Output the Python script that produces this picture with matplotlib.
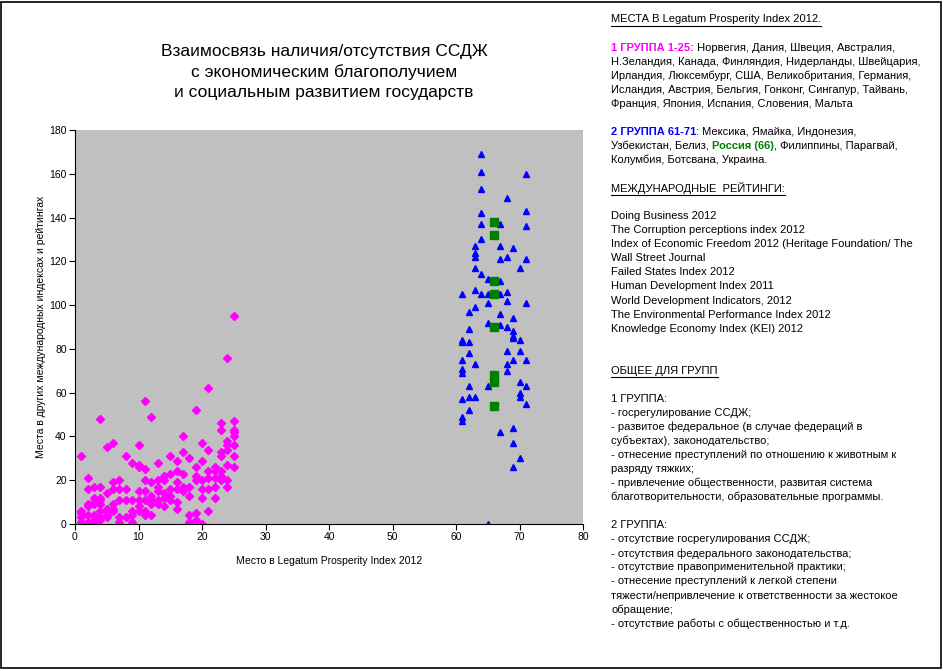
import matplotlib
matplotlib.use("Agg")
import matplotlib.pyplot as plt
from matplotlib.lines import Line2D
from matplotlib.patches import Rectangle

plt.rcParams['font.family'] = ['Liberation Sans', 'DejaVu Sans']

# group 1: places 1-25 in Legatum index, places in other ratings
g1_rank = ([1]*5 + [2]*6 + [3]*7 + [4]*8 + [5]*6 + [6]*6 + [7]*5 + [8]*4 + [9]*5
           + [10]*7 + [11]*7 + [12]*6 + [13]*6 + [14]*5 + [15]*5 + [16]*6 + [17]*5
           + [18]*6 + [19]*6 + [20]*6 + [21]*6 + [22]*5 + [23]*7 + [24]*7 + [25]*8)
g1_place = [31, 6, 5, 3, 1,
            21, 16, 9, 8, 4, 1,
            17, 12, 10, 9, 4, 2, 1,
            48, 17, 12, 11, 9, 6, 3, 2,
            35, 14, 7, 6, 4, 3,
            37, 19, 16, 9, 7, 6,
            20, 16, 11, 3, 1,
            31, 16, 11, 3,
            28, 11, 6, 4, 1,
            36, 27, 26, 15, 11, 8, 6,
            56, 25, 20, 15, 11, 6, 4,
            49, 19, 13, 11, 9, 4,
            28, 20, 17, 15, 11, 9,
            22, 20, 14, 12, 8,
            31, 23, 16, 13, 11,
            29, 24, 19, 16, 10, 7,
            40, 33, 23, 17, 15,
            30, 17, 13, 4, 1, 0,
            52, 26, 22, 20, 5, 2,
            37, 29, 20, 16, 12, 0,
            62, 34, 24, 21, 16, 6,
            26, 24, 21, 17, 12,
            46, 43, 33, 31, 24, 22, 20,
            76, 38, 36, 34, 27, 20, 17,
            95, 47, 43, 42, 40, 36, 31, 26]

# group 2: places 61-71 (without Russia)
g2_rank = ([61]*9 + [62]*7 + [63]*8 + [64]*8 + [65]*6 + [67]*8 + [68]*8
           + [69]*9 + [70]*7 + [71]*8)
g2_place = [105, 84, 83, 75, 71, 69, 57, 49, 47,
            97, 89, 83, 78, 63, 58, 52,
            127, 124, 122, 117, 107, 99, 73, 58,
            169, 161, 153, 142, 137, 130, 114, 105,
            112, 105, 101, 92, 63, 0,
            137, 127, 121, 111, 105, 96, 91, 42,
            149, 122, 106, 102, 90, 79, 73, 70,
            126, 94, 88, 86, 85, 75, 44, 37, 26,
            117, 84, 79, 65, 60, 58, 30,
            160, 143, 136, 121, 101, 75, 63, 55]

# Russia (66)
ru_rank = [66]*8
ru_place = [138, 132, 111, 105, 90, 68, 65, 54]

W, H = 944, 671
fig = plt.figure(figsize=(W/100, H/100), dpi=100)
fig.patch.set_facecolor('white')

ax = fig.add_axes([75/W, 1 - 524/H, 508/W, 394/H])
ax.set_facecolor('#C0C0C0')
ax.plot(g1_rank, g1_place, 'D', color='#FF00FF', ms=3.6, mec='#FF00FF')
ax.plot(g2_rank, g2_place, '^', color='#0000FF', ms=4.8, mec='#0000FF')
ax.plot(ru_rank, ru_place, 's', color='#008000', ms=6, mec='#008000')
ax.set_xlim(0, 80)
ax.set_ylim(0, 180)
ax.set_xticks(range(0, 81, 10))
ax.set_yticks(range(0, 181, 20))
for s in ['top', 'right']:
    ax.spines[s].set_visible(False)
for s in ['left', 'bottom']:
    ax.spines[s].set_color('black')
    ax.spines[s].set_linewidth(0.8)
ax.tick_params(direction='out', length=4, width=0.8, labelsize=7.5, pad=2)
ax.set_xlabel('Место в Legatum Prosperity Index 2012', fontsize=7.5, labelpad=10)
ax.set_ylabel('Места в других международных индексах и рейтингах', fontsize=7.5, labelpad=2)

fig.text(324/W, 1 - 72/H, 'Взаимосвязь наличия/отсутствия ССДЖ\nс экономическим благополучием\nи социальным развитием государств',
         ha='center', va='center', fontsize=12.5, linespacing=1.4)

fig.canvas.draw()
rend = fig.canvas.get_renderer()

FS = 8
X0 = 611


def line_y(i):
    return 19.5 + 14.05 * i


def put(i, parts, underline=False):
    x = X0
    y = line_y(i)
    for txt, kw in parts:
        t = fig.text(x/W, 1 - y/H, txt, ha='left', va='center', fontsize=FS, **kw)
        bb = t.get_window_extent(rend)
        if underline:
            fig.add_artist(Line2D([x/W, (x + bb.width)/W], [bb.y0/H - 1/H]*2,
                                  color='black', lw=0.8))
        x += bb.width


plain = {'color': 'black'}
put(0, [('МЕСТА В Legatum Prosperity Index 2012.', plain)], underline=True)
put(2, [('1 ГРУППА 1-25:', {'color': '#FF00FF', 'weight': 'bold'}),
        (' Норвегия, Дания, Швеция, Австралия,', plain)])
put(3, [('Н.Зеландия, Канада, Финляндия, Нидерланды, Швейцария,', plain)])
put(4, [('Ирландия, Люксембург, США, Великобритания, Германия,', plain)])
put(5, [('Исландия, Австрия, Бельгия, Гонконг, Сингапур, Тайвань,', plain)])
put(6, [('Франция, Япония, Испания, Словения, Мальта', plain)])
put(8, [('2 ГРУППА 61-71', {'color': '#0000FF', 'weight': 'bold'}),
        (': Мексика, Ямайка, Индонезия,', plain)])
put(9, [('Узбекистан, Белиз, ', plain),
        ('Россия (66)', {'color': '#008000', 'weight': 'bold'}),
        (', Филиппины, Парагвай,', plain)])
put(10, [('Колумбия, Ботсвана, Украина.', plain)])
put(12, [('МЕЖДУНАРОДНЫЕ  РЕЙТИНГИ:', plain)], underline=True)

ratings = ['Doing Business 2012',
           'The Corruption perceptions index 2012',
           'Index of Economic Freedom 2012 (Heritage Foundation/ The',
           'Wall Street Journal',
           'Failed States Index 2012',
           'Human Development Index 2011',
           'World Development Indicators, 2012',
           'The Environmental Performance Index 2012',
           'Knowledge Economy Index (KEI) 2012']
for k, r in enumerate(ratings):
    put(14 + k, [(r, plain)])

put(25, [('ОБЩЕЕ ДЛЯ ГРУПП', plain)], underline=True)
group1 = ['1 ГРУППА:',
          '- госрегулирование ССДЖ;',
          '- развитое федеральное (в случае федераций в',
          'субъектах), законодательство;',
          '- отнесение преступлений по отношению к животным к',
          'разряду тяжких;',
          '- привлечение общественности, развитая система',
          'благотворительности, образовательные программы.']
for k, r in enumerate(group1):
    put(27 + k, [(r, plain)])
group2 = ['2 ГРУППА:',
          '- отсутствие госрегулирования ССДЖ;',
          '- отсутствия федерального законодательства;',
          '- отсутствие правоприменительной практики;',
          '- отнесение преступлений к легкой степени',
          'тяжести/непривлечение к ответственности за жестокое',
          'обращение;',
          '- отсутствие работы с общественностью и т.д.']
for k, r in enumerate(group2):
    put(36 + k, [(r, plain)])

fig.add_artist(Rectangle((1/W, 3/H), 940/W, 666/H, transform=fig.transFigure,
                         fill=False, edgecolor='black', lw=1.2))

fig.savefig('out.png', dpi=100)
